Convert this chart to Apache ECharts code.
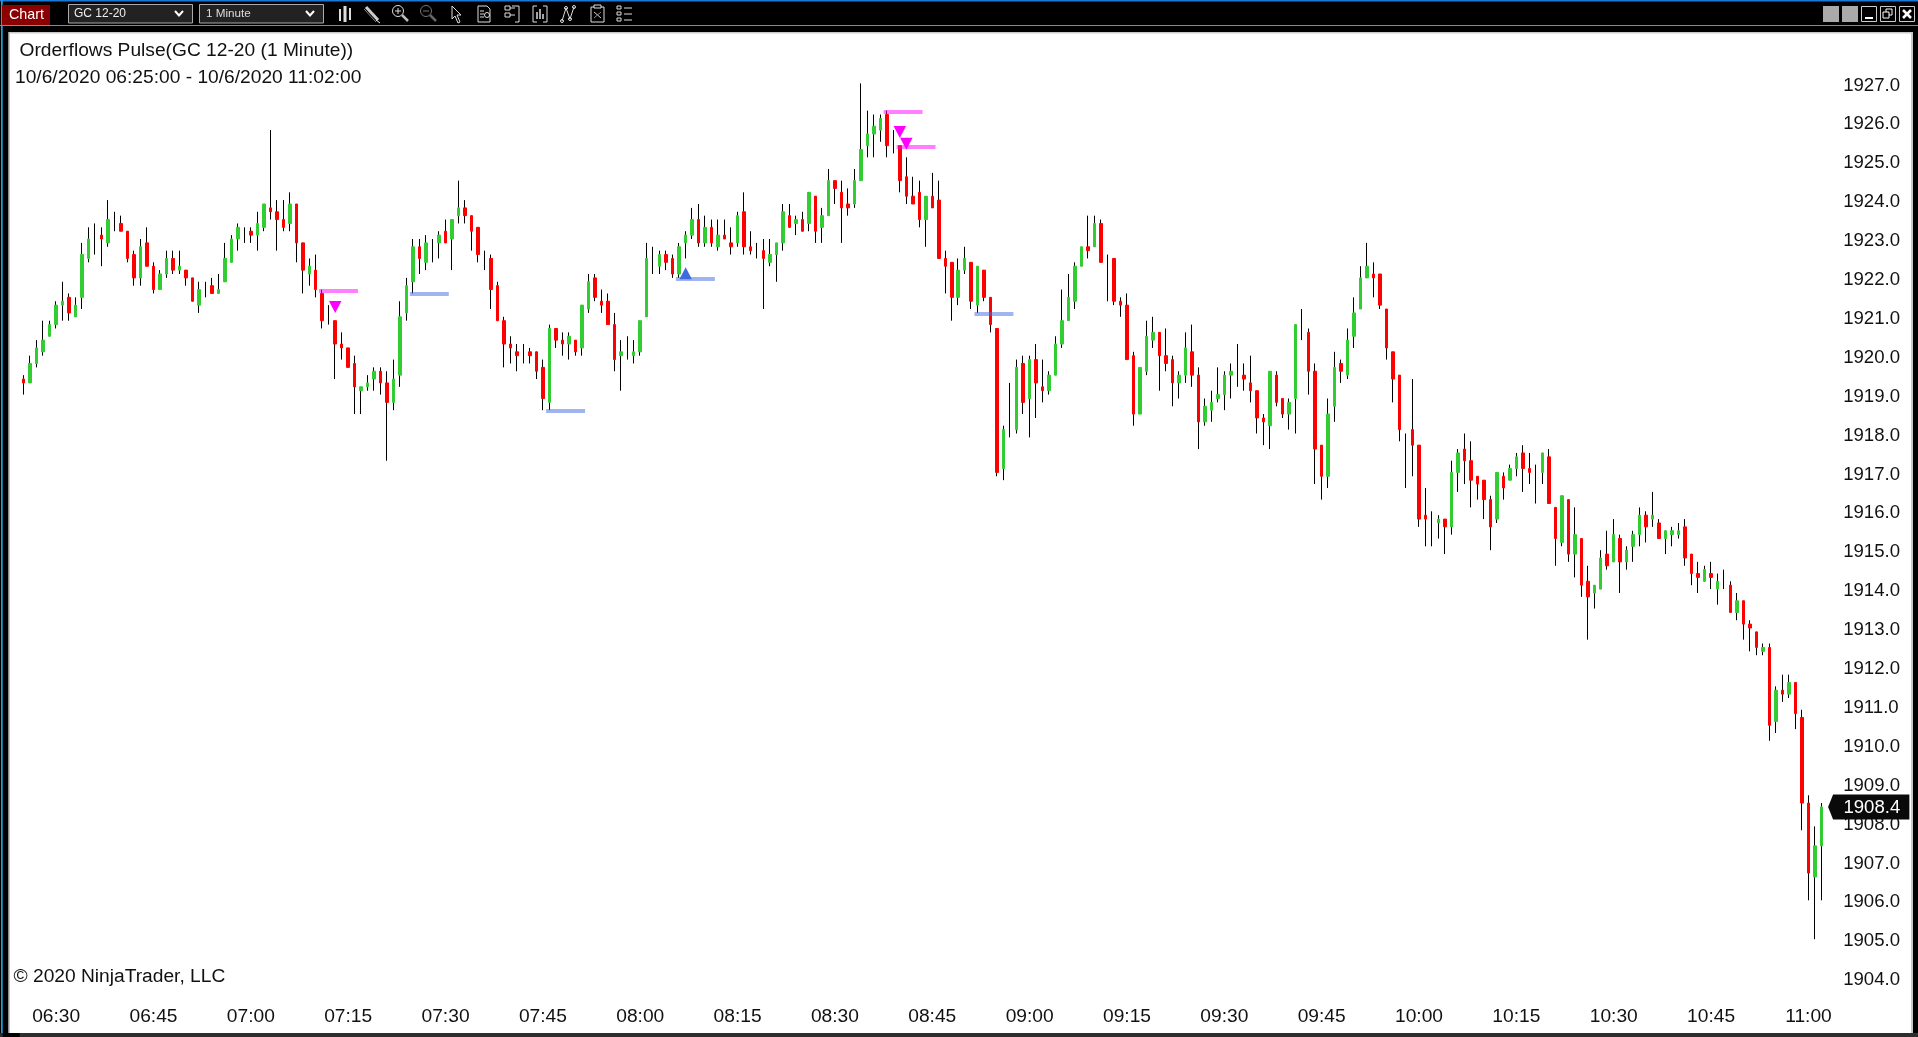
<!DOCTYPE html>
<html>
<head>
<meta charset="utf-8">
<style>html,body{margin:0;padding:0;background:#000;overflow:hidden}#c{width:1918px;height:1037px}</style>
<script src="https://cdn.jsdelivr.net/npm/echarts@6/dist/echarts.min.js"></script>
</head>
<body>
<div id="c"></div>
<script>
const opens = [
1919.4,1919.3,1919.8,1920.1,1920.5,1920.8,1921.3,1921.5,1921.0,1921.5,
1922.5,1923.0,1923.1,1922.9,1923.5,1923.4,1923.2,1922.6,1922.0,1922.9,
1922.3,1921.7,1922.1,1922.5,1922.2,1922.2,1922.0,1921.3,1921.7,1921.8,
1921.6,1921.9,1922.4,1923.0,1923.1,1923.2,1923.1,1923.3,1923.8,1923.7,
1923.5,1923.4,1923.9,1922.9,1922.1,1922.2,1921.6,1921.0,1920.9,1920.3,
1920.2,1919.8,1919.1,1919.2,1919.4,1919.6,1919.3,1918.8,1919.5,1921.1,
1921.9,1922.8,1922.4,1922.7,1922.9,1923.2,1923.0,1923.6,1923.8,1923.6,
1923.3,1922.5,1922.5,1921.8,1920.9,1920.3,1920.1,1920.0,1920.1,1920.1,
1919.7,1918.8,1920.7,1920.4,1920.3,1920.4,1920.2,1921.2,1922.0,1921.4,
1921.4,1920.8,1920.0,1920.1,1920.0,1920.1,1921.0,1922.5,1922.3,1922.6,
1922.5,1922.1,1922.9,1923.1,1923.5,1922.9,1923.3,1922.8,1923.1,1922.9,
1922.9,1923.7,1922.8,1922.7,1922.7,1922.4,1922.6,1922.9,1923.6,1923.4,
1923.5,1923.4,1924.1,1923.3,1923.6,1924.5,1924.2,1923.9,1923.9,1924.5,
1925.4,1925.7,1925.8,1926.2,1925.5,1925.4,1924.6,1924.1,1924.2,1923.5,
1924.1,1924.0,1922.5,1922.4,1921.5,1922.2,1922.4,1921.3,1922.2,1921.5,
1920.7,1917.1,1918.5,1918.1,1919.8,1918.9,1919.9,1919.2,1919.1,1919.5,
1920.3,1920.9,1921.4,1922.3,1922.8,1922.8,1923.4,1922.0,1922.5,1921.4,
1921.3,1920.0,1918.5,1919.6,1920.4,1920.6,1920.0,1919.9,1919.3,1919.5,
1920.1,1919.5,1918.3,1918.6,1918.9,1919.0,1919.5,1919.6,1919.5,1919.3,
1919.1,1918.4,1918.2,1919.5,1918.9,1918.5,1918.9,1920.8,1920.6,1919.6,
1917.7,1916.9,1918.7,1919.8,1919.5,1920.5,1921.2,1922.0,1922.1,1922.1,
1921.2,1920.1,1919.5,1917.3,1918.1,1917.7,1915.9,1915.5,1915.7,1915.8,
1915.6,1917.0,1917.6,1917.3,1916.9,1916.8,1916.3,1915.8,1916.9,1916.8,
1917.1,1917.5,1917.1,1916.8,1917.0,1917.4,1916.1,1915.2,1916.3,1914.9,
1915.3,1914.2,1913.9,1914.0,1914.9,1914.7,1915.3,1914.7,1915.1,1915.4,
1915.9,1915.8,1915.7,1915.3,1915.4,1915.4,1915.6,1914.9,1914.4,1914.2,
1914.4,1914.0,1914.3,1914.1,1913.4,1913.7,1913.1,1912.9,1912.4,1912.5,
1910.6,1911.4,1911.3,1911.6,1910.7,1908.5,1906.6,1907.4];
const highs = [
1919.5,1920.0,1920.4,1920.9,1920.9,1921.4,1921.9,1921.6,1921.5,1922.9,
1923.3,1923.4,1923.3,1924.0,1923.7,1923.6,1923.2,1922.7,1923.0,1923.3,
1922.4,1922.2,1922.7,1922.7,1922.7,1922.2,1922.0,1921.9,1921.9,1922.0,
1922.1,1922.9,1923.1,1923.4,1923.3,1923.3,1923.7,1923.9,1925.8,1924.0,
1924.0,1924.2,1923.9,1922.9,1922.5,1922.6,1921.7,1921.3,1920.9,1920.6,
1920.2,1920.0,1919.2,1919.5,1919.7,1919.7,1919.6,1919.9,1921.4,1922.0,
1923.0,1923.0,1923.1,1923.0,1923.2,1923.5,1923.5,1924.5,1924.0,1923.6,
1923.3,1922.7,1922.6,1921.9,1921.0,1920.5,1920.3,1920.3,1920.2,1920.1,
1919.9,1920.8,1920.7,1920.6,1920.6,1920.4,1921.3,1922.1,1922.1,1921.7,
1921.6,1921.1,1920.4,1920.5,1920.4,1920.9,1922.9,1922.8,1922.7,1922.7,
1922.6,1922.9,1923.2,1923.8,1923.9,1923.6,1923.5,1923.5,1923.5,1923.3,
1923.7,1924.2,1923.2,1922.9,1923.0,1923.0,1922.9,1923.9,1923.9,1923.6,
1923.7,1924.2,1924.1,1923.8,1924.8,1924.5,1924.5,1924.3,1924.8,1927.0,
1926.3,1926.2,1926.2,1926.3,1925.8,1925.4,1925.1,1924.6,1924.5,1924.1,
1924.7,1924.5,1922.7,1922.4,1922.5,1922.8,1922.4,1922.3,1922.2,1921.5,
1920.7,1918.2,1919.3,1919.9,1920.0,1920.0,1920.3,1919.9,1919.6,1920.5,
1921.7,1922.1,1922.4,1922.8,1923.6,1923.6,1923.5,1922.6,1922.5,1921.5,
1921.6,1920.1,1919.7,1920.9,1921.0,1920.6,1920.7,1920.0,1919.6,1920.6,
1920.8,1919.7,1918.9,1919.1,1919.7,1919.6,1919.8,1920.3,1919.8,1920.0,
1919.1,1918.5,1919.6,1919.6,1918.9,1918.9,1920.8,1921.2,1920.7,1919.8,
1917.7,1918.9,1920.1,1919.9,1920.7,1921.5,1922.3,1922.9,1922.4,1922.1,
1921.2,1920.1,1919.5,1918.0,1919.4,1917.7,1916.6,1916.0,1915.9,1915.8,
1917.3,1917.6,1918.0,1917.8,1916.9,1916.8,1916.4,1917.0,1917.0,1917.2,
1917.5,1917.7,1917.5,1917.2,1917.5,1917.6,1916.1,1916.4,1916.3,1916.1,
1915.3,1914.6,1914.1,1915.0,1915.5,1915.8,1915.4,1915.1,1915.5,1916.1,
1916.0,1916.5,1915.8,1915.5,1915.6,1915.7,1915.8,1914.9,1914.7,1914.6,
1914.7,1914.4,1914.5,1914.2,1913.9,1913.7,1913.2,1912.9,1912.6,1912.6,
1911.5,1911.8,1911.8,1911.6,1910.9,1908.7,1907.9,1908.5];
const lows = [
1919.0,1919.3,1919.7,1920.0,1920.5,1920.7,1920.9,1920.9,1921.0,1921.2,
1922.4,1922.6,1922.3,1922.8,1923.2,1923.2,1922.4,1921.8,1921.8,1922.3,
1921.6,1921.7,1922.0,1922.1,1922.1,1921.8,1921.4,1921.1,1921.5,1921.6,
1921.6,1921.9,1922.4,1922.7,1922.9,1922.9,1922.7,1923.2,1923.5,1922.7,
1923.2,1923.2,1922.4,1921.6,1921.8,1921.5,1920.7,1920.8,1919.4,1919.9,
1919.7,1918.5,1918.5,1919.1,1919.1,1919.0,1917.3,1918.6,1919.2,1920.9,
1921.6,1922.1,1922.2,1922.4,1922.5,1922.9,1922.2,1923.4,1923.4,1922.7,
1922.4,1922.2,1921.2,1920.9,1919.7,1919.8,1919.6,1919.8,1919.8,1919.4,
1918.6,1918.6,1920.2,1920.0,1919.9,1920.0,1920.0,1921.1,1921.4,1921.1,
1920.8,1919.6,1919.1,1919.9,1919.8,1920.0,1921.0,1922.1,1922.1,1922.2,
1922.0,1922.0,1922.5,1923.0,1922.8,1922.8,1922.8,1922.7,1923.0,1922.6,
1922.8,1922.6,1922.6,1922.5,1921.2,1922.3,1921.9,1922.7,1923.3,1923.1,
1923.2,1923.2,1922.9,1922.9,1923.6,1923.9,1922.9,1923.6,1923.8,1924.5,
1925.1,1925.1,1925.5,1925.1,1925.2,1924.2,1923.9,1923.9,1923.3,1922.8,
1923.8,1922.5,1921.6,1920.9,1921.3,1922.1,1921.2,1921.1,1921.4,1920.6,
1916.9,1916.8,1917.9,1918.0,1918.5,1917.9,1918.4,1918.8,1919.0,1919.5,
1920.2,1920.9,1921.2,1922.3,1922.5,1922.8,1922.4,1921.4,1921.3,1921.0,
1919.9,1918.2,1918.5,1919.5,1920.2,1919.1,1919.6,1918.7,1918.9,1919.3,
1919.2,1917.6,1918.2,1918.3,1918.8,1918.6,1918.9,1919.2,1919.1,1918.8,
1918.0,1917.7,1917.6,1918.7,1918.4,1918.1,1918.0,1920.4,1919.0,1916.7,
1916.3,1916.6,1918.3,1919.3,1919.4,1920.2,1921.2,1922.0,1921.5,1921.2,
1919.9,1918.8,1917.8,1916.6,1916.9,1915.6,1915.1,1915.1,1915.3,1914.9,
1915.4,1916.5,1916.7,1916.1,1916.3,1915.8,1915.0,1915.7,1916.3,1916.8,
1916.9,1916.5,1916.7,1916.2,1916.7,1916.2,1914.6,1915.1,1914.7,1914.3,
1913.8,1912.7,1913.5,1914.0,1914.5,1914.7,1913.9,1914.5,1914.7,1915.1,
1915.2,1915.6,1915.3,1914.9,1915.1,1915.3,1914.6,1914.1,1913.9,1914.2,
1914.0,1913.6,1914.0,1913.4,1913.2,1912.7,1912.4,1912.3,1912.3,1910.1,
1910.3,1911.1,1911.2,1910.4,1907.8,1906.0,1905.0,1906.0];
const closes = [
1919.3,1919.8,1920.2,1920.4,1920.8,1921.3,1921.4,1921.1,1921.3,1922.6,
1923.0,1923.0,1923.0,1923.5,1923.5,1923.2,1922.5,1922.0,1922.8,1922.3,
1921.7,1922.1,1922.5,1922.2,1922.3,1922.0,1921.4,1921.7,1921.7,1921.6,
1921.7,1922.5,1923.0,1923.3,1923.1,1923.1,1923.4,1923.9,1923.7,1923.5,
1923.3,1923.9,1922.9,1922.2,1922.3,1921.7,1920.9,1921.0,1920.3,1920.2,
1919.7,1919.2,1919.2,1919.3,1919.6,1919.3,1918.8,1919.4,1921.0,1921.8,
1922.8,1922.5,1922.9,1922.7,1923.1,1922.9,1923.5,1923.8,1923.6,1923.2,
1922.6,1922.5,1921.7,1920.9,1920.3,1920.2,1920.0,1920.0,1920.0,1919.6,
1918.9,1920.7,1920.4,1920.3,1920.5,1920.1,1921.3,1921.9,1921.5,1921.3,
1920.8,1919.9,1920.1,1920.1,1920.1,1920.9,1922.5,1922.5,1922.6,1922.4,
1922.1,1922.8,1923.1,1923.5,1922.9,1923.3,1922.9,1923.1,1923.0,1922.8,
1923.6,1922.8,1922.7,1922.7,1922.5,1922.6,1922.9,1923.7,1923.3,1923.5,
1923.2,1924.2,1923.2,1923.6,1924.5,1924.3,1923.8,1923.8,1924.5,1925.3,
1925.7,1925.9,1926.1,1925.4,1925.5,1924.5,1924.1,1923.9,1923.5,1924.1,
1923.8,1922.5,1922.3,1921.5,1922.2,1922.5,1921.4,1922.3,1921.5,1920.8,
1917.0,1918.1,1918.5,1919.7,1918.8,1919.9,1919.3,1919.1,1919.5,1920.3,
1920.9,1921.5,1922.3,1922.8,1922.7,1923.4,1922.4,1922.0,1921.4,1921.3,
1919.9,1918.5,1919.7,1920.5,1920.6,1920.0,1919.8,1919.3,1919.5,1920.2,
1919.5,1918.3,1918.7,1918.8,1919.0,1919.5,1919.6,1919.6,1919.4,1919.1,
1918.4,1918.3,1919.6,1918.8,1918.5,1918.8,1920.8,1920.8,1919.6,1917.6,
1916.9,1918.5,1919.7,1919.6,1920.4,1921.1,1922.0,1922.3,1922.0,1921.3,
1920.2,1919.4,1918.1,1917.3,1917.7,1915.8,1915.8,1915.5,1915.8,1915.6,
1917.0,1917.5,1917.3,1916.8,1916.7,1916.3,1915.6,1917.0,1916.6,1917.1,
1917.4,1917.1,1917.0,1916.8,1917.5,1916.2,1915.3,1916.4,1914.9,1915.4,
1914.1,1913.8,1914.1,1914.8,1914.6,1915.4,1914.7,1915.0,1915.4,1915.9,
1915.6,1915.9,1915.3,1915.5,1915.5,1915.5,1914.8,1914.4,1914.3,1914.5,
1914.3,1914.2,1914.3,1913.4,1913.7,1913.1,1913.0,1912.5,1912.5,1910.5,
1911.4,1911.3,1911.6,1910.8,1908.5,1906.7,1907.4,1908.4];

const startMinute = 6 * 60 + 25;
const barTimes = opens.map((_, i) => {
  const m = startMinute + i;
  return String(Math.floor(m / 60)).padStart(2, '0') + ':' + String(m % 60).padStart(2, '0');
});
const timeTicks = ['06:30','06:45','07:00','07:15','07:30','07:45','08:00','08:15','08:30','08:45','09:00','09:15','09:30','09:45','10:00','10:15','10:30','10:45','11:00'];
const priceMin = 1904, priceMax = 1927;

const askLevels = [[46,51,1921.7],[133,138,1926.3],[135,140,1925.4]];
const bidLevels = [[60,65,1921.6],[81,86,1918.6],[101,106,1922.0],[147,152,1921.1]];
const downSignals = [[48,1921.25],[135,1925.75],[136,1925.45]];
const upSignals = [[102,1922.12]];
const lastPrice = 1908.4;

const FONT = 'Liberation Sans';
const GREEN = '#32cd32', RED = '#ff0000';

const wickData = opens.map((o, i) => [o, closes[i], lows[i], highs[i]]);
const bodyData = opens.map((o, i) => {
  const c = closes[i];
  const item = { value: [o, c, Math.min(o, c), Math.max(o, c)] };
  if (o === c) item.itemStyle = { color: 'transparent', color0: 'transparent', borderColor: 'transparent', borderColor0: 'transparent', borderColorDoji: 'transparent' };
  return item;
});

function levelSeries(name, levels, color) {
  return {
    name, type: 'custom', z: 5, clip: false, silent: true,
    encode: { x: [0, 1], y: 2 },
    data: levels,
    renderItem(params, api) {
      const a = api.coord([api.value(0), api.value(2)]);
      const b = api.coord([api.value(1), api.value(2)]);
      const band = api.size([1, 0])[0];
      return { type: 'rect', shape: { x: a[0] - band / 2, y: Math.round(a[1]) - 1, width: b[0] - a[0] + band, height: 4 }, style: { fill: color, opacity: 0.5 } };
    }
  };
}

/* window chrome, not data */
const chrome = [];
function rect(x, y, w, h, fill, stroke, extra) { chrome.push(Object.assign({ type: 'rect', silent: true, shape: { x, y, width: w, height: h }, style: { fill: fill || 'none', stroke: stroke || 'none', lineWidth: 1 } }, extra || {})); }
function line(pts, color, w) { chrome.push({ type: 'polyline', silent: true, shape: { points: pts }, style: { stroke: color || '#ddd', lineWidth: w || 1, fill: 'none' } }); }
function circle(cx, cy, r, color) { chrome.push({ type: 'circle', silent: true, shape: { cx, cy, r }, style: { stroke: color, fill: 'none', lineWidth: 1 } }); }
function text(x, y, t, size, color, extra) { chrome.push({ type: 'text', silent: true, x, y, style: Object.assign({ text: t, font: size + 'px "' + FONT + '"', fill: color, verticalAlign: 'middle' }, extra || {}) }); }

rect(0, 0, 1918, 1037, '#000');
rect(0, 0, 1918, 1.5, '#1a78d8');
rect(1, 0, 1.7, 1037, '#1e9fe0');
rect(0, 25, 1918, 1, '#8a8a8a');
rect(8.3, 32, 1904.7, 1001, '#c8c8c8');
rect(10, 33.5, 1901, 999.5, '#fff');
rect(0, 1033, 1918, 4, '#2e2e2e');
rect(2.7, 1033, 17, 4, '#000');

rect(2, 5, 48, 20, '#8b0000');
text(9, 15, 'Chart', 14.3, '#fff');
rect(68.5, 4.5, 124, 18.5, '#222', '#aaa');
text(74, 14, 'GC 12-20', 12, '#eee');
line([[175, 11], [179, 15.5], [183, 11]], '#fff', 2);
rect(199.5, 4.5, 124, 18.5, '#222', '#aaa');
text(206, 14, '1 Minute', 11.7, '#ddd');
line([[306, 11], [310, 15.5], [314, 11]], '#fff', 2);

/* toolbar icons */
line([[340, 9], [340, 21]], '#ddd', 2); line([[345, 6], [345, 22]], '#ddd', 3); line([[350, 8], [350, 20]], '#ddd', 2);
line([[366, 7], [378, 20]], '#ccc', 3); line([[364, 9], [376, 22]], '#888', 1); line([[376, 20], [380, 23]], '#eee', 1);
circle(398, 11, 5.5, '#ddd'); line([[395, 11], [401, 11]], '#ddd'); line([[398, 8], [398, 14]], '#ddd'); line([[402, 15], [408, 21]], '#bbb', 2.5);
circle(426, 11, 5.5, '#777'); line([[423, 11], [429, 11]], '#777'); line([[430, 15], [436, 21]], '#666', 2.5);
line([[452, 6], [452, 19], [455, 16], [458, 23], [460, 22], [457, 15], [461, 15], [452, 6]], '#ddd', 1);
line([[478, 6], [487, 6], [490, 9], [490, 22], [478, 22], [478, 6]], '#ddd'); line([[480, 11], [484, 11]], '#ddd'); line([[480, 14], [484, 14]], '#ddd'); line([[480, 17], [484, 17]], '#ddd'); circle(487, 15, 2.5, '#ddd');
rect(505, 6, 5, 4, null, '#ddd'); rect(505, 13, 5, 4, null, '#ddd'); line([[512, 6], [519, 6], [519, 22], [515, 22]], '#ddd'); line([[510, 8], [515, 8]], '#ddd'); line([[510, 15], [515, 15]], '#ddd');
line([[537, 6], [533, 6], [533, 22], [537, 22]], '#ddd'); line([[543, 6], [547, 6], [547, 22], [543, 22]], '#ddd'); line([[537, 12], [537, 19]], '#ddd', 1.5); line([[540, 9], [540, 19]], '#ddd', 1.5); line([[543, 14], [543, 19]], '#ddd', 1.5);
line([[562, 21], [566, 8], [570, 19], [574, 7]], '#ddd'); circle(562, 21, 1.5, '#ddd'); circle(566, 8, 1.5, '#ddd'); circle(570, 19, 1.5, '#ddd'); circle(574, 7, 1.5, '#ddd');
rect(591, 7, 13, 15, null, '#ddd'); rect(594, 5, 7, 3, '#000', '#ddd'); line([[594, 12], [601, 18]], '#ccc'); line([[601, 12], [594, 18]], '#888');
rect(617, 6, 4, 3, null, '#ddd'); rect(617, 12, 4, 3, null, '#ddd'); rect(617, 18, 4, 3, null, '#ddd'); line([[624, 8], [632, 8]], '#ddd'); line([[624, 14], [632, 14]], '#ddd'); line([[624, 20], [632, 20]], '#ddd');

/* window buttons */
rect(1823, 6, 16, 16, '#aaa');
rect(1842, 6, 16, 16, '#aaa');
rect(1861.5, 6.5, 15, 15, null, '#ccc'); line([[1865, 18], [1873, 18]], '#fff', 2);
rect(1880.5, 6.5, 15, 15, null, '#ccc'); rect(1886, 9, 6, 6, null, '#fff'); rect(1883, 12, 6, 6, '#000', '#fff');
rect(1899.5, 6.5, 15, 15, null, '#ccc'); line([[1903, 10], [1911, 18]], '#fff', 2.5); line([[1911, 10], [1903, 18]], '#fff', 2.5);

text(19.5, 50.5, 'Orderflows Pulse(GC 12-20 (1 Minute))', 19.2, '#111');
text(15, 77.5, '10/6/2020 06:25:00 - 10/6/2020 11:02:00', 19.2, '#111');
text(13.5, 976.5, '\u00A9 2020 NinjaTrader, LLC', 19.2, '#111');

const chart = echarts.init(document.getElementById('c'), null, { renderer: 'canvas' });
chart.setOption({
  animation: false,
  backgroundColor: '#000',
  graphic: { elements: chrome },
  grid: { left: 20.45, top: 83.4, width: 1804.2, height: 894.7, containLabel: false },
  xAxis: {
    type: 'category', data: barTimes, boundaryGap: true,
    axisLine: { show: false }, axisTick: { show: false }, splitLine: { show: false },
    axisLabel: {
      interval: (i, v) => timeTicks.includes(v),
      hideOverlap: false, margin: 29,
      color: '#111', fontFamily: FONT, fontSize: 19.2
    }
  },
  yAxis: {
    type: 'value', position: 'right', min: priceMin, max: priceMax, interval: 1,
    axisLine: { show: false }, axisTick: { show: false }, splitLine: { show: false },
    axisLabel: { margin: 18.5, formatter: v => '{p|' + v.toFixed(1) + '}', rich: { p: { padding: [4, 0, 0, 0], color: '#111', fontFamily: FONT, fontSize: 18.6 } }, showMinLabel: true, showMaxLabel: true, align: 'left' }
  },
  series: [
    { name: 'Wicks', type: 'candlestick', z: 2, barWidth: 1, silent: true, data: wickData,
      itemStyle: { color: '#000', color0: '#000', borderColor: '#000', borderColor0: '#000', borderColorDoji: '#000', borderWidth: 1 } },
    { name: 'Bodies', type: 'candlestick', z: 3, barWidth: 3, silent: true, data: bodyData,
      itemStyle: { color: GREEN, color0: RED, borderColor: GREEN, borderColor0: RED, borderWidth: 1 } },
    levelSeries('Ask levels', askLevels, '#ff00ff'),
    levelSeries('Bid levels', bidLevels, '#4169e1'),
    { name: 'Sell pulse', type: 'scatter', z: 6, silent: true, symbol: 'triangle', symbolRotate: 180, symbolSize: [12.5, 12], data: downSignals, itemStyle: { color: '#ff00ff', opacity: 1 } },
    { name: 'Buy pulse', type: 'scatter', z: 6, silent: true, symbol: 'triangle', symbolSize: [12.5, 12], data: upSignals, itemStyle: { color: '#4169e1', opacity: 1 } },
    { name: 'Last price', type: 'custom', z: 8, clip: false, silent: true,
      encode: { x: 0, y: 1 },
      data: [[opens.length - 1, lastPrice]],
      renderItem(params, api) {
        const p = api.coord([api.value(0), api.value(1)]);
        const x0 = p[0] + 6.7, y = p[1], h = 12.5, right = p[0] + 88;
        return { type: 'group', children: [
          { type: 'polygon', shape: { points: [[x0, y], [x0 + 5, y - h], [right, y - h], [right, y + h], [x0 + 5, y + h]] }, style: { fill: '#0a0a0a' } },
          { type: 'text', x: p[0] + 22, y: y + 0.5, style: { text: api.value(1).toFixed(1), fill: '#fff', font: '18.6px "' + FONT + '"', verticalAlign: 'middle' } }
        ] };
      }
    }
  ]
});
</script>
</body>
</html>
